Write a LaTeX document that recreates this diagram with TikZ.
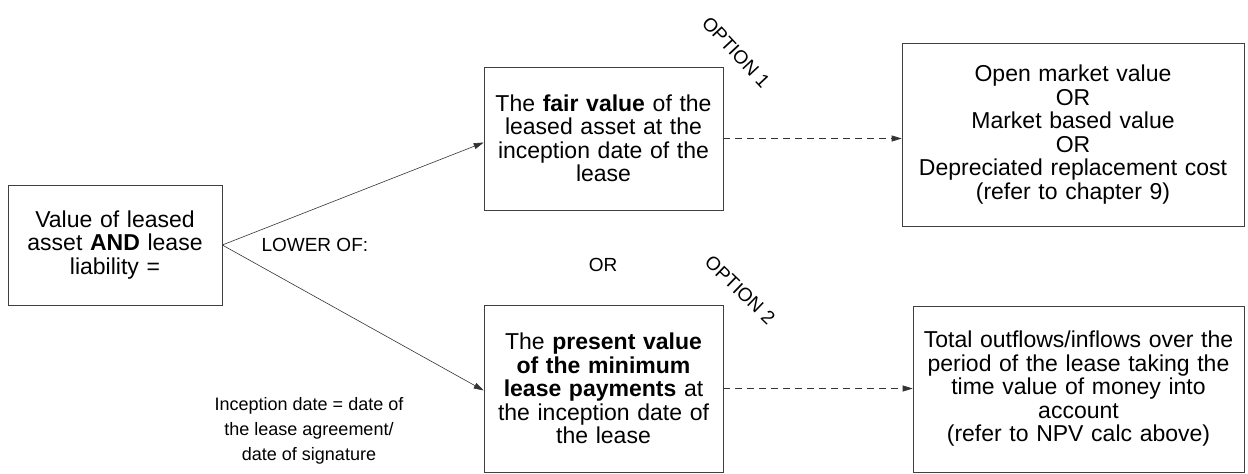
\documentclass[tikz,border=0pt]{standalone}
\usepackage{fontspec}
\setmainfont{Liberation Sans}
\usetikzlibrary{arrows.meta,calc}
\begin{document}
\begin{tikzpicture}[x=1pt,y=-1pt,
  box/.style={draw=black!75,line width=0.6pt,align=center,inner sep=2pt,
    font=\fontsize{23}{23.5}\selectfont},
  conn/.style={draw=black!80,line width=0.6pt,-{Triangle[length=10pt,width=6pt]}},
  dconn/.style={conn,dash pattern=on 7pt off 5pt},
  lbl/.style={font=\fontsize{19}{22}\selectfont},
  small/.style={align=center,font=\fontsize{18}{25}\selectfont}]
\useasboundingbox (0,0) rectangle (1248,474);
\node[box,minimum width=214pt,minimum height=120pt,text width=205pt] (left) at (115,245)
  {Value of leased\\asset \textbf{AND} lease\\liability =};
\node[box,minimum width=239pt,minimum height=143pt,text width=232pt] (topmid) at (603.5,138.5)
  {The \textbf{fair value} of the\\leased asset at the\\inception date of the\\lease};
\node[box,minimum width=239pt,minimum height=167pt,text width=232pt] (botmid) at (603.5,388.5)
  {The \textbf{present value}\\\textbf{of the minimum}\\\textbf{lease payments} at\\the inception date of\\the lease};
\node[box,minimum width=342pt,minimum height=183pt,text width=334pt] (topright) at (1073,134.5)
  {Open market value\\OR\\Market based value\\OR\\Depreciated replacement cost\\(refer to chapter 9)};
\node[box,minimum width=331pt,minimum height=166pt,text width=324pt] (botright) at (1078.5,389)
  {Total outflows/inflows over the\\period of the lease taking the\\time value of money into\\account\\(refer to NPV calc above)};
\node[lbl,anchor=west] (lower) at (258,245) {LOWER OF:};
\node[lbl] (or) at (603,265) {OR};
\node[lbl,rotate=-47] (opt1) at (736,52) {OPTION 1};
\node[lbl,rotate=-44] (opt2) at (740,290) {OPTION 2};
\node[small] (incep) at (309,431) {Inception date = date of\\the lease agreement/\\date of signature};
\draw[conn] (left.east) -- ([yshift=-4pt]topmid.west);
\draw[conn] (left.east) -- ([yshift=-2pt]botmid.west);
\draw[dconn] (topmid.east) -- (topmid.east -| topright.west);
\draw[dconn] (botmid.east) -- (botmid.east -| botright.west);
\end{tikzpicture}
\end{document}
